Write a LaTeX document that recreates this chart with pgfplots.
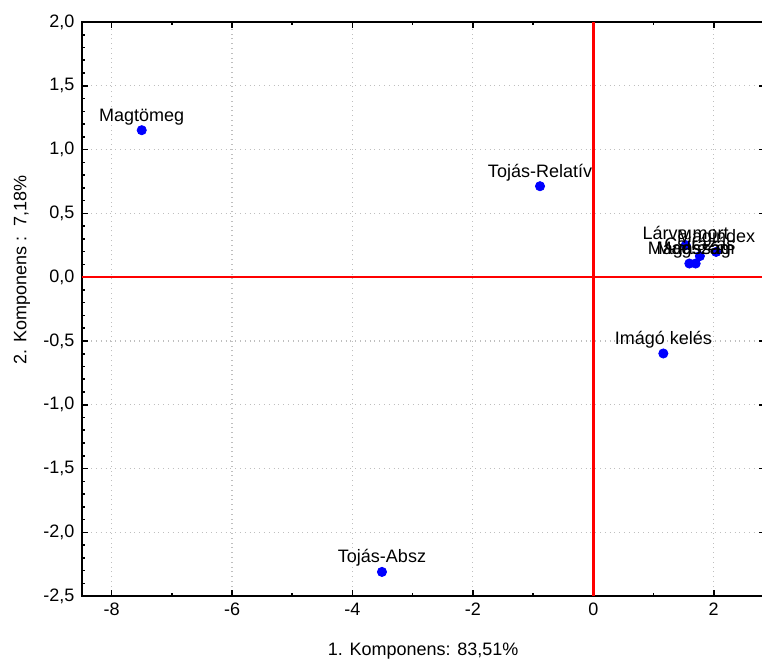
\documentclass[border=0pt]{standalone}
\usepackage{fontspec}
\setmainfont{Liberation Sans}
\usepackage{pgfplots}
\pgfplotsset{compat=1.18}
\begin{document}
\begin{tikzpicture}
\begin{axis}[
 name=ax,
 width=341.6pt, height=287pt, scale only axis,
 xmin=-8.5, xmax=2.85, ymin=-2.5, ymax=2.0,
 xtick={-8,-6,...,2}, ytick={-2.5,-2,...,2},
 minor x tick num=1, minor y tick num=4,
 tick align=inside, major tick length=3pt, minor tick length=1.5pt,
 grid=major, grid style={dotted, gray!50, line width=0.6pt},
 axis line style={line width=1pt},
 tick style={black, line width=0.8pt},
 font=\fontsize{9}{11}\selectfont,
 /pgf/number format/assume math mode=true,
 /pgf/number format/use comma,
 yticklabel style={/pgf/number format/fixed, /pgf/number format/fixed zerofill, /pgf/number format/precision=1},
 xlabel={1. Komponens: 83,51\%},
 ylabel={2. Komponens :\ \ 7,18\%},
 every axis x label/.style={at={(rel axis cs:0.5,0)}, anchor=center, yshift=-27.5pt},
 every axis y label/.style={at={(rel axis cs:0,0.568)}, anchor=center, rotate=90, yshift=29.75pt},
 clip mode=individual,
]
\addplot[red, line width=1.3pt, no marks] coordinates {(0,-2.5) (0,2)};
\addplot[red, line width=1.3pt, no marks] coordinates {(-8.5,0) (2.85,0)};
\addplot[only marks, mark=*, mark size=2.3pt, blue,
  nodes near coords, point meta=explicit symbolic,
  nodes near coords style={anchor=south, black, yshift=2.5pt, inner sep=0pt, font=\fontsize{9}{11}\selectfont}]
  table[col sep=comma, meta=label] {
x,y,label
-7.50,1.152,Magtömeg
-3.51,-2.31,Tojás-Absz
-0.885,0.713,Tojás-Relatív
1.163,-0.598,Imágó kelés
1.535,0.251,Lárva mort
2.04,0.198,Magindex
1.77,0.165,Csírázás
1.595,0.107,Magasság
1.70,0.107,Magszám
};
\end{axis}
\pgfresetboundingbox
\path ([xshift=-40.75pt,yshift=-33pt]ax.south west) rectangle ([xshift=-1.45pt,yshift=11pt]ax.north east);
\end{tikzpicture}
\end{document}
